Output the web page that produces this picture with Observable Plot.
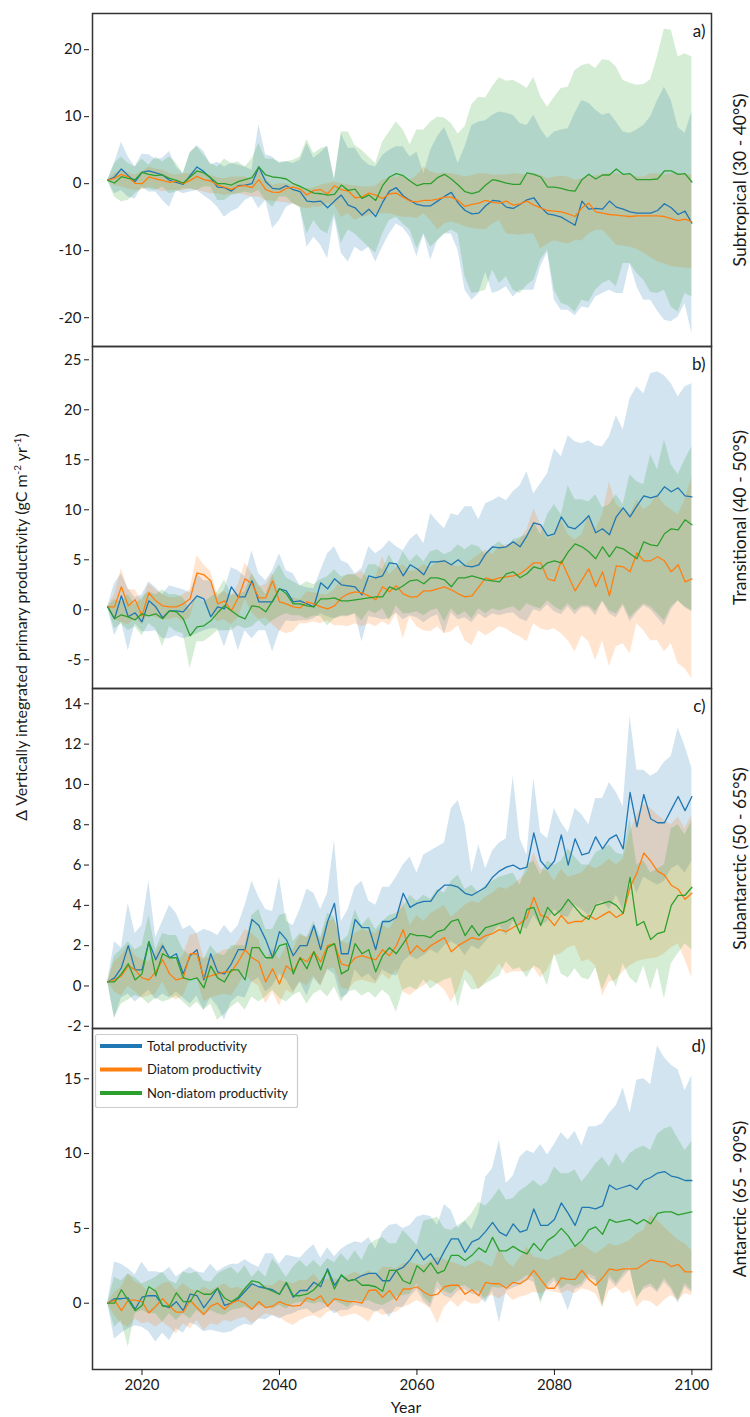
<!DOCTYPE html>
<html><head><meta charset="utf-8">
<script src="https://cdn.jsdelivr.net/npm/d3@7"></script>
<script src="https://cdn.jsdelivr.net/npm/@observablehq/plot@0.6"></script>
<style>
body{margin:0;background:#fff;}
#wrap{position:relative;width:750px;height:1417px;font-family:Lato,"Open Sans",sans-serif;background:#fff;}
#wrap svg{position:absolute;left:0;}
</style></head><body><div id="wrap"></div>
<script>
// ---------- DATA (years 2015..2100) ----------
const years = d3.range(2015, 2101);
const seriesNames = ["Total productivity", "Diatom productivity", "Non-diatom productivity"];
const seriesColors = ["#1f77b4", "#ff7f0e", "#2ca02c"];
const panelLabels = ["a)", "b)", "c)", "d)"];
const regionLabels = ["Subtropical (30 - 40°S)", "Transitional (40 - 50°S)", "Subantarctic (50 - 65°S)", "Antarctic (65 - 90°S)"];
const xTicks = [2020, 2040, 2060, 2080, 2100];
const aTicks = [-20, -10, 0, 10, 20];
const bTicks = [-5, 0, 5, 10, 15, 20, 25];
const cTicks = [-2, 0, 2, 4, 6, 8, 10, 12, 14];
const dTicks = [0, 5, 10, 15];

// Panel a
const aTotal = [0.5,1.0,2.2,1.2,0.3,1.7,1.9,1.6,1.3,0.5, 0.2,-0.1,1.2,2.5,1.8,0.8,-0.5,-0.6,-1.1,-0.3, -0.2,0.0,2.5,0.3,-0.7,-0.8,-0.3,-0.9,-1.2,-2.6, -2.7,-2.6,-3.6,-2.6,-1.7,-3.2,-3.6,-4.7,-3.8,-4.9, -2.8,-1.1,-0.6,-1.8,-2.5,-3.1,-3.3,-3.3,-2.6,-1.9, -1.3,-2.9,-4.0,-4.5,-4.4,-3.3,-2.5,-2.6,-3.5,-3.7, -3.1,-2.4,-2.1,-3.5,-4.5,-4.7,-5.0,-5.6,-6.2,-2.6, -3.8,-3.7,-3.8,-2.6,-3.5,-3.8,-4.2,-4.4,-4.4,-4.4, -4.0,-3.0,-3.6,-4.6,-4.1,-5.9];
const aTotalLo = [0.5,-1.5,-1.0,-2.0,-2.3,-0.5,-1.25,-1.25,-2.5,-3.5, -1.0,-1.5,-1.25,-1.0,-1.8,-2.5,-3.5,-5.0,-4.2,-3.7, -2.5,-2.0,-3.7,-2.5,-6.7,-5.5,-3.5,-3.0,-3.5,-9.5, -8.0,-9.2,-11.2,-5.0,-10.4,-11.7,-9.5,-10.2,-9.5,-11.7, -9.5,-7.5,-6.0,-6.6,-8.0,-10.9,-7.5,-11.4,-8.5,-7.5, -7.5,-10.0,-15.9,-17.4,-16.4,-13.2,-16.4,-16.0,-15.4,-16.9, -15.9,-15.9,-15.9,-12.4,-10.2,-17.4,-18.9,-18.9,-19.7,-18.4, -18.6,-16.9,-16.4,-15.9,-16.4,-16.4,-11.9,-15.4,-17.4,-17.4, -19.0,-20.4,-20.6,-19.9,-17.9,-22.4];
const aTotalHi = [0.5,3.0,6.2,4.0,2.5,4.4,4.3,3.6,3.8,4.8, 2.5,1.5,4.5,5.7,4.8,2.8,3.2,2.5,3.0,2.8, 2.5,2.0,8.8,4.3,4.0,3.0,3.3,3.0,3.5,6.0, 3.8,4.6,5.6,0.5,7.4,5.3,5.3,3.7,2.8,2.5, 4.2,5.0,5.5,5.5,4.0,4.7,1.5,5.0,7.0,8.4, 6.0,3.0,5.5,8.7,9.2,9.4,10.2,10.7,10.5,10.2, 9.0,8.7,10.2,8.2,6.7,7.7,8.0,8.2,10.5,12.4, 12.0,11.0,10.2,10.5,9.2,7.7,7.5,8.0,8.7,10.0, 12.4,14.4,12.4,8.4,7.5,10.7];
const aDiatom = [0.5,0.8,1.4,1.0,0.05,0.0,1.0,0.7,0.5,0.2, 0.4,0.0,0.5,1.1,0.6,0.4,-0.2,-0.5,-0.85,-0.4, -0.3,-0.6,0.6,-0.9,-1.25,-1.3,-0.7,-0.5,-0.8,-1.7, -1.0,-0.9,-1.5,-0.3,-0.9,-1.1,-2.1,-2.0,-1.4,-1.7, -2.2,-1.5,-1.4,-2.0,-2.6,-2.7,-2.5,-2.5,-2.3,-2.0, -2.0,-2.5,-3.4,-3.1,-2.9,-2.5,-2.8,-2.9,-2.6,-3.2, -3.0,-2.6,-3.2,-3.6,-4.0,-4.1,-4.2,-4.5,-4.9,-3.6, -2.9,-4.2,-4.4,-4.6,-4.7,-4.8,-4.9,-4.8,-4.8,-4.8, -4.8,-4.9,-5.2,-5.5,-5.3,-5.7];
const aDiatomLo = [0.5,-0.3,-0.5,-0.8,-1.0,-0.9,-0.5,-0.8,-1.25,-1.0, -1.0,-1.1,-0.75,-1.0,-1.25,-1.5,-1.5,-1.75,-1.6,-1.5, -1.7,-2.0,-2.0,-2.5,-2.6,-2.75,-2.9,-3.0,-3.5,-3.75, -3.5,-3.5,-3.0,-3.2,-5.0,-4.5,-5.5,-5.0,-4.8,-4.5, -4.5,-4.5,-4.8,-5.0,-5.0,-5.2,-4.5,-5.5,-6.9,-6.0, -5.7,-6.0,-6.4,-6.7,-6.8,-6.9,-6.0,-5.5,-7.5,-7.6, -7.7,-7.5,-7.5,-9.7,-9.0,-8.5,-8.8,-9.0,-8.5,-8.5, -7.5,-7.0,-6.9,-8.0,-9.2,-9.3,-9.5,-9.8,-10.4,-11.0, -11.7,-12.0,-12.4,-12.5,-12.6,-12.7];
const aDiatomHi = [0.5,1.5,2.0,1.6,1.25,1.8,2.5,2.2,2.0,1.5, 1.25,1.5,1.5,2.0,1.5,1.25,0.9,0.75,1.0,1.0, 1.0,0.5,2.0,0.8,-0.25,0.0,0.0,-0.3,-0.5,-0.75, -0.6,-0.25,0.0,0.25,0.0,-0.25,-0.3,-0.5,-0.5,-0.4, 0.5,0.8,1.0,1.2,0.5,1.2,2.5,1.8,1.5,1.6, 1.5,1.3,1.0,1.2,1.5,1.5,1.3,1.3,1.3,1.5, 1.4,1.3,1.5,1.3,0.75,1.0,1.1,1.0,0.5,0.75, 1.0,1.2,1.4,1.5,1.5,1.4,1.3,1.0,1.0,1.5, 1.5,1.3,1.5,1.5,1.4,1.3];
const aNonDiatom = [0.5,0.1,1.05,0.8,0.6,1.7,1.4,1.2,1.3,0.8, 0.5,0.1,1.0,1.9,1.6,0.9,0.0,0.0,-0.2,0.3, 0.6,0.9,2.5,1.3,1.0,0.9,0.7,0.0,-0.4,-0.9, -1.4,-1.5,-1.7,-1.6,-0.2,-1.0,-0.8,-2.2,-1.7,-2.5, -0.3,1.0,1.5,1.2,0.4,-0.3,0.0,0.0,0.9,1.4, 0.7,-0.2,-1.2,-1.5,-1.2,-0.2,0.6,0.4,0.1,-0.1, -0.1,1.6,1.4,1.0,-0.5,-0.5,-0.7,-1.0,-1.1,0.6, 1.4,0.7,1.3,1.3,2.2,1.4,1.5,0.6,0.6,0.6, 0.7,1.9,1.9,1.4,1.5,0.25];
const aNonDiatomLo = [0.5,-2.0,-2.7,-2.5,-1.5,-0.75,-0.8,-1.0,-0.5,-1.5, -1.25,-0.75,-0.8,-1.0,-0.5,-0.5,-2.5,-2.5,-1.75,-1.5, -1.25,-1.5,-1.0,-2.5,-3.5,-2.0,-2.0,-3.0,-3.5,-7.5, -5.5,-6.9,-7.5,-4.5,-8.9,-6.9,-7.5,-8.5,-9.5,-10.4, -7.5,-5.5,-5.0,-6.0,-6.9,-9.7,-7.5,-9.5,-8.5,-7.5, -6.9,-7.5,-13.9,-16.4,-16.2,-15.9,-12.9,-14.9,-13.9,-15.9, -16.4,-15.2,-14.4,-11.4,-9.9,-15.9,-17.9,-18.2,-19.2,-17.4, -17.7,-15.9,-14.9,-14.4,-15.4,-11.9,-11.9,-13.4,-14.4,-16.2, -16.4,-15.9,-18.4,-19.2,-16.4,-16.9];
const aNonDiatomHi = [0.5,3.0,4.0,3.0,2.5,3.7,2.75,4.0,3.25,4.0, 3.0,1.5,4.7,5.5,4.2,3.0,2.5,3.7,3.0,3.25, 2.5,3.7,6.0,3.7,3.7,3.25,3.25,3.5,4.0,6.6, 4.5,5.2,5.6,0.75,7.7,7.7,5.7,5.0,4.0,3.0, 6.2,7.7,9.2,8.0,5.8,8.0,8.0,9.2,9.9,9.8, 9.0,7.4,8.5,11.8,12.9,12.8,14.5,15.8,15.3,15.4, 14.9,14.2,15.9,13.0,11.4,12.9,14.2,14.4,16.9,17.6, 17.9,17.2,18.5,18.4,17.4,15.4,15.0,14.7,14.8,15.5, 19.0,23.1,22.9,18.9,19.4,18.9];

// Panel b
const bTotal = [0.3,-0.9,1.4,-0.7,-0.3,-1.2,0.9,0.3,-0.8,-0.1, -0.1,-0.2,0.6,1.4,1.1,-0.7,0.3,0.1,2.3,1.3, 1.3,2.9,0.8,0.8,0.8,2.1,1.9,0.8,0.9,0.6, 0.3,2.7,2.1,3.1,2.5,2.4,2.3,1.5,3.4,3.2, 3.4,4.7,4.6,3.4,4.5,4.1,3.5,4.8,4.8,4.9, 4.5,5.0,4.4,4.3,4.5,5.6,6.3,6.2,6.3,6.8, 6.3,7.4,8.7,8.5,7.4,7.6,9.3,8.3,8.1,8.7, 9.4,7.7,8.1,7.5,9.3,10.2,9.3,10.4,11.4,11.2, 11.4,12.3,11.8,12.2,11.4,11.3];
const bTotalLo = [0.3,-2.6,-1.2,-4.1,-1.4,-2.2,-2.2,-2.1,-2.9,-2.9, -2.6,-2.9,-2.7,-2.4,-2.1,-1.9,-1.9,-3.7,-1.7,-4.1, -2.1,-2.9,-2.1,-2.1,-4.2,-2.2,-1.1,-1.2,-1.1,-1.1, -0.9,-0.4,-0.7,-0.9,-0.7,-0.7,-0.4,-3.2,-0.7,-0.8, -1.0,-0.9,-0.3,-1.0,-0.6,-0.8,-1.3,-0.8,-0.5,-2.4, -0.3,-1.0,-0.8,-1.3,-0.4,-0.9,-0.4,-0.6,-0.4,-0.3, -0.9,-1.2,0.0,-0.2,0.5,-0.2,-0.5,0.3,-0.5,0.2, 0.2,-0.6,0.8,-0.4,-0.8,0.4,-1.2,-0.3,0.4,0.0, -0.8,-1.6,0.0,0.9,0.2,-0.2];
const bTotalHi = [0.3,2.6,3.6,2.1,1.2,1.5,2.8,2.2,1.5,2.4, 2.2,2.0,1.7,3.6,2.9,2.9,1.2,2.0,4.2,3.9, 3.3,5.9,3.6,2.9,3.9,5.6,3.9,3.6,2.4,2.2, 2.1,3.9,5.6,6.3,4.9,4.6,3.6,4.1,6.3,5.6, 6.1,6.9,6.3,5.9,7.0,7.6,6.6,9.6,8.8,8.1, 9.6,9.4,10.3,10.3,9.0,10.6,10.9,11.3,10.9,11.8, 12.4,13.8,11.6,12.6,13.6,16.1,15.3,17.4,16.8,16.6, 16.9,16.4,16.3,17.3,19.4,18.0,21.1,22.3,21.6,23.6, 23.8,23.4,22.6,21.3,22.3,22.6];
const bDiatom = [0.3,0.3,2.3,0.4,1.0,-0.6,1.7,0.9,0.4,0.3, 0.3,0.6,1.1,3.7,3.5,2.9,0.6,0.9,-0.1,1.2, 3.1,2.6,1.2,1.2,2.9,0.8,0.6,0.3,0.2,0.8, 0.6,0.3,0.1,0.4,1.2,1.6,1.8,1.7,1.4,1.0, 2.3,1.8,2.4,1.6,1.3,1.3,1.9,1.9,2.1,2.3, 2.0,1.6,1.3,1.4,2.3,3.2,3.0,3.2,3.3,3.4, 3.6,4.1,4.7,4.7,3.1,2.9,4.9,3.4,1.9,3.0, 4.1,2.3,3.8,1.4,4.4,4.3,3.8,5.7,4.9,4.9, 5.3,4.9,3.8,4.5,2.8,3.1];
const bDiatomLo = [0.3,-1.0,-1.3,-1.5,-0.9,-1.5,-0.5,-0.8,-1.0,-1.0, -0.8,-1.2,-0.8,1.5,1.0,-0.5,-1.2,-1.0,-1.5,-0.8, 1.0,-0.3,-1.0,-0.8,-1.5,-2.1,-2.4,-2.2,-1.4,-1.4, -1.2,-1.4,-1.1,-1.6,-1.6,-1.7,-1.4,-1.7,-1.4,-1.7, -1.2,-1.6,-0.4,-2.9,-0.7,-1.7,-2.1,-2.2,-1.7,-2.4, -2.2,-1.6,-3.1,-3.6,-2.1,-2.6,-2.2,-1.7,-1.9,-2.4, -2.7,-3.2,-1.4,-1.9,-2.1,-1.9,-2.4,-3.1,-4.2,-2.6, -3.2,-5.1,-3.1,-5.7,-3.7,-3.4,-4.4,-1.4,-2.1,-3.1, -3.1,-4.2,-3.4,-5.4,-5.9,-6.9];
const bDiatomHi = [0.3,1.5,4.1,2.0,2.0,0.8,2.6,2.0,1.5,1.2, 1.2,1.5,2.0,5.4,4.5,3.8,1.5,1.8,1.3,2.5, 4.7,3.6,2.3,2.5,3.6,1.8,1.5,1.2,1.0,1.8, 1.7,1.5,1.5,2.0,3.0,3.5,3.5,3.8,3.0,3.2, 5.3,3.5,4.2,4.5,3.8,4.0,4.5,4.2,4.8,5.0, 4.5,4.3,4.5,5.0,5.5,6.0,5.5,6.3,6.5,6.6, 7.0,8.0,10.1,8.5,7.0,7.5,9.0,7.5,7.0,7.5, 9.5,8.0,9.5,12.8,10.5,10.0,9.5,11.0,10.0,10.5, 11.5,10.5,10.0,9.5,11.0,13.3];
const bNonDiatom = [0.3,-0.9,-0.5,-0.7,-1.0,-0.4,-0.6,-0.4,-0.9,-0.1, -0.2,-0.9,-2.6,-1.7,-1.6,-1.1,-0.3,0.4,-0.1,-0.6, -0.9,0.4,0.3,-0.2,0.9,2.1,1.6,0.6,0.6,0.4, 0.3,1.1,1.1,1.2,0.9,0.9,1.0,1.1,1.2,1.3, 1.3,2.3,2.0,2.4,2.9,3.0,2.6,3.2,3.2,3.0, 2.3,3.2,3.2,3.4,3.2,3.0,2.9,2.8,3.6,3.8, 3.2,3.6,4.3,4.1,4.7,4.9,4.7,5.8,6.6,6.3, 5.8,5.1,6.3,5.3,6.3,6.1,5.6,5.1,6.8,6.5, 6.4,7.6,8.1,8.0,9.0,8.5];
const bNonDiatomLo = [0.3,-1.9,-1.4,-2.1,-1.7,-2.6,-1.4,-1.9,-3.7,-1.7, -2.2,-2.4,-5.9,-3.2,-3.2,-2.7,-2.1,-2.1,-2.1,-1.6, -1.9,-1.7,-1.1,-1.7,-1.1,-0.7,-0.4,-0.6,-0.6,-0.9, -0.6,-0.7,-1.6,-0.9,-0.6,-0.6,-0.4,-1.1,-0.1,-0.4, 0.1,-1.1,0.4,-0.4,-0.4,-0.2,-0.6,-0.1,0.1,-1.2, 0.1,-0.6,-0.2,-0.9,0.1,-0.4,0.1,-0.1,0.1,0.3, -0.2,0.6,0.3,0.1,0.9,0.3,-0.1,0.6,-0.1,0.4, 0.4,-0.2,0.9,-0.1,-0.4,0.6,-0.8,-0.1,0.6,0.3, -0.4,-1.1,0.3,0.9,0.3,-0.1];
const bNonDiatomHi = [0.3,1.0,0.8,1.5,0.5,1.2,1.8,1.5,2.0,1.5, 1.5,1.2,0.0,1.5,0.8,1.2,1.8,3.0,1.5,1.5, 1.8,3.6,2.5,1.5,3.4,4.5,3.2,2.8,2.4,2.8, 2.5,3.0,3.3,4.0,3.3,3.5,3.5,3.0,4.5,4.5, 4.0,5.5,4.2,5.8,4.8,5.5,4.8,5.8,6.0,5.5, 5.8,6.5,6.0,6.5,6.3,5.5,6.3,6.8,6.2,7.0, 7.2,7.5,8.8,7.5,9.5,10.5,9.5,12.4,11.0,11.0, 10.8,11.5,10.2,10.5,11.5,10.5,13.5,12.8,12.5,15.5, 14.0,17.0,14.5,13.5,15.0,16.3];

// Panel c
const cTotal = [0.2,0.4,0.9,2.0,0.8,0.8,2.2,1.3,2.0,1.4, 1.6,0.6,1.5,1.8,0.3,1.6,0.7,0.6,1.1,1.8, 1.8,3.3,3.0,2.3,1.4,2.7,2.3,1.5,2.0,2.0, 3.0,1.8,3.2,4.1,1.6,1.6,3.3,2.9,2.9,1.8, 3.2,3.2,3.4,4.6,3.9,4.1,4.2,4.2,4.7,5.0, 5.0,4.9,4.6,4.5,4.7,4.9,5.4,5.7,5.9,6.0, 5.8,5.9,7.6,6.2,5.8,6.2,7.5,6.0,7.3,6.5, 6.6,7.4,6.8,7.3,7.5,6.8,9.6,7.9,9.5,8.3, 8.1,8.1,8.75,9.4,8.7,9.4];
const cTotalLo = [0.2,-1.6,-0.6,-0.4,-0.8,-0.5,-0.2,-0.7,-0.4,-0.6, -0.3,-0.6,-0.9,-0.5,-1.2,-0.6,-1.0,-1.7,-0.8,-0.5, -0.6,0.2,0.4,-0.3,0.0,0.6,0.3,-0.3,0.2,-0.5, 0.4,0.0,0.8,0.6,-0.6,-0.4,0.8,0.4,0.6,0.2, 0.8,0.6,0.5,1.2,1.5,1.3,1.5,1.8,1.6,2.0, 2.2,2.0,1.5,2.0,1.8,2.2,2.6,3.0,2.5,3.2, 3.0,2.8,3.5,3.0,3.2,3.8,3.5,3.4,4.0,3.8, 3.5,4.0,4.2,3.8,4.5,3.8,5.5,4.6,5.4,5.2, 5.0,5.2,5.8,6.0,5.6,6.2];
const cTotalHi = [0.2,2.2,1.9,4.1,2.6,3.0,5.2,2.4,3.2,4.0, 3.6,2.8,3.0,2.6,2.8,2.7,2.5,3.0,2.6,3.0, 4.0,5.2,4.4,3.8,3.7,5.4,3.2,3.0,3.8,4.8, 4.6,3.8,4.6,7.2,3.2,3.8,4.9,5.2,4.2,4.0, 4.9,4.9,5.4,6.0,6.4,5.6,6.5,6.7,6.9,7.1, 8.8,9.2,8.0,5.6,7.0,5.8,6.7,7.1,7.3,10.4, 7.3,6.5,10.3,7.6,7.3,8.8,8.1,7.6,8.8,8.5, 8.0,9.3,9.3,10.1,9.6,8.9,13.4,10.7,10.7,10.4, 10.6,11.1,11.4,12.8,11.9,10.8];
const cDiatom = [0.2,0.3,0.5,1.0,0.8,0.4,0.3,0.7,1.3,0.6, 0.3,0.4,1.6,1.6,0.4,0.5,0.6,0.7,0.7,1.2, 1.8,1.4,1.2,0.2,0.85,0.1,1.0,0.7,1.4,1.2, 1.7,1.2,2.0,2.1,1.1,1.0,1.4,1.5,1.4,1.3, 1.8,1.5,2.0,2.8,1.6,2.0,1.7,2.0,2.2,2.4, 1.7,2.0,2.2,2.4,2.3,2.5,2.6,2.8,2.7,2.9, 3.1,3.4,4.4,3.5,3.4,3.0,3.5,3.1,3.2,3.2, 3.5,3.3,3.5,3.7,3.4,3.6,4.9,5.6,6.6,6.2, 5.7,5.5,5.0,4.8,4.3,4.6];
const cDiatomLo = [0.2,-0.3,-0.5,0.0,-0.3,-0.6,-0.5,-0.4,0.2,-0.5, -0.7,-0.5,0.3,0.4,-0.8,-0.6,-0.5,-0.4,-0.5,0.0, 0.6,0.2,0.0,-0.9,-0.3,-1.0,-0.2,-0.4,0.2,0.0, 0.5,0.0,0.8,0.9,-0.1,-0.2,0.2,0.3,0.2,0.1, 0.6,0.3,0.8,-0.3,-0.47,-0.2,0.0,0.3,0.1,-0.2, -0.8,-0.2,0.8,0.5,-0.2,0.2,0.6,1.1,0.6,0.7, 0.7,0.7,0.9,0.4,0.8,1.5,1.6,1.9,2.0,1.2, 1.3,1.0,-0.5,0.2,0.3,0.7,1.0,1.2,1.3,1.35, 1.4,1.6,1.9,2.1,1.3,0.4];
const cDiatomHi = [0.2,1.2,1.5,2.0,1.5,1.3,1.2,1.6,2.2,1.5, 1.2,1.5,2.5,2.6,1.4,1.4,1.6,1.8,1.8,2.2, 2.8,2.6,2.3,1.2,1.9,1.3,2.0,1.8,2.5,2.4, 2.8,2.3,3.2,3.3,2.2,2.1,2.6,2.8,2.7,2.6, 3.0,2.8,3.4,4.2,3.0,3.5,3.2,3.6,3.8,4.0, 3.4,3.7,4.0,4.2,4.1,4.4,4.6,4.9,4.8,5.0, 5.3,5.6,6.6,5.8,5.7,5.2,5.8,5.4,5.5,5.6, 6.0,5.8,6.0,6.3,6.0,6.3,7.6,8.5,9.0,8.8, 8.5,8.2,8.0,8.4,7.8,8.5];
const cNonDiatom = [0.2,0.2,0.6,1.1,0.3,0.6,2.2,0.5,1.6,1.4, 1.4,0.4,0.3,0.4,-0.1,1.0,0.4,0.2,0.8,0.8, 0.3,1.9,1.9,1.4,1.4,2.0,2.1,0.6,1.4,0.85, 1.7,0.8,1.9,2.1,0.6,0.8,2.1,1.6,1.8,0.7, 1.5,1.9,1.6,2.1,2.6,2.5,2.5,2.4,2.7,2.8, 3.2,3.3,2.5,3.0,2.5,2.9,3.0,3.1,3.2,3.4, 2.6,3.8,3.9,3.0,3.9,3.5,3.8,4.3,3.9,3.5, 3.3,4.0,4.1,4.2,4.0,3.6,5.4,3.0,3.2,2.3, 2.6,2.7,4.0,4.5,4.5,4.9];
const cNonDiatomLo = [0.2,-1.6,-0.9,-0.7,-0.47,-0.6,-0.9,-0.6,-0.8,-0.7, -0.5,-0.8,-1.1,-0.8,-1.2,-0.9,-1.7,-1.4,-1.05,-0.8, -1.2,-0.55,-0.8,-0.55,-0.2,-0.6,-0.8,-0.47,-0.3,-0.9, -0.4,-0.2,-0.55,-0.05,-0.8,-0.3,-0.2,-0.5,-0.3,-0.6, -0.2,-0.5,-1.3,-0.2,-0.05,-0.2,0.3,-0.15,0.1,0.3, 0.4,-1.05,0.3,-0.2,-0.15,0.1,0.3,0.5,1.2,0.8, 0.9,0.4,1.0,0.8,0.0,1.6,0.6,0.4,0.85,0.4, 0.3,0.9,-0.2,0.6,-0.05,1.1,0.4,0.1,1.0,-0.2, 0.9,-0.65,1.1,1.6,2.1,1.8];
const cNonDiatomHi = [0.2,1.5,1.8,2.2,1.8,2.0,3.5,1.8,2.6,2.5, 2.5,1.8,1.5,1.6,1.3,2.0,1.6,1.5,2.0,2.0, 2.0,3.5,3.8,2.8,2.8,3.5,3.6,2.2,2.6,2.4, 3.2,2.4,3.6,3.4,2.2,2.5,3.8,3.0,3.4,2.8, 3.2,3.5,3.6,3.9,4.5,4.2,4.5,4.3,4.8,4.6, 5.2,5.5,4.8,5.0,4.6,5.0,5.2,5.4,5.5,5.6, 5.0,6.0,6.2,5.5,6.2,6.0,6.2,6.8,6.4,6.0, 6.0,6.6,6.8,7.0,6.6,6.5,8.3,6.0,6.2,5.6, 5.8,6.0,7.8,8.0,7.5,8.2];

// Panel d
const dTotal = [0.0,0.3,0.3,0.35,-0.4,0.4,0.5,0.5,-0.15,-0.3, 0.1,-0.5,0.6,0.5,-0.3,0.3,1.0,-0.15,0.0,0.3, 0.8,1.3,1.1,1.0,0.9,0.6,1.35,0.4,0.85,0.85, 1.4,1.1,2.3,1.2,1.85,1.5,1.6,1.85,2.0,2.0, 1.5,1.5,2.2,2.4,2.9,3.6,2.9,3.3,2.6,3.5, 4.3,4.3,3.4,4.1,4.3,4.8,5.4,4.75,4.5,5.3, 4.75,4.9,6.3,5.2,5.2,5.6,6.7,6.0,5.2,6.4, 6.4,6.3,6.5,7.9,7.6,7.75,7.9,7.6,8.2,8.4, 8.7,8.8,8.5,8.4,8.2,8.2];
const dTotalLo = [0.0,-2.4,-2.0,-1.7,-1.5,-1.6,-1.9,-2.6,-2.0,-2.5, -1.7,-2.0,-1.3,-1.5,-1.9,-1.8,-1.9,-2.0,-1.9,-1.6, -1.4,-1.5,-1.05,-1.1,-0.82,-1.05,-0.82,-0.71,-0.49,-0.38, -0.71,-0.49,-0.27,-0.71,-0.49,-0.49,-0.16,-0.27,-0.38,-0.6, -0.38,-0.94,-0.27,-0.27,0.4,0.9,0.1,-0.3,1.0,0.5, 0.3,0.8,0.9,0.6,0.5,0.0,0.8,-1.3,0.8,1.0, 1.2,1.6,1.4,0.2,1.0,1.5,0.7,-0.5,0.9,1.1, 1.7,1.5,-0.1,1.6,1.1,1.7,2.2,0.4,0.9,1.1, 0.7,1.4,0.9,0.0,1.1,0.7];
const dTotalHi = [0.0,2.75,2.6,2.3,1.9,2.75,2.1,2.1,2.0,2.4, 1.75,2.1,2.4,2.1,2.0,2.6,2.1,2.4,2.6,2.6, 2.9,2.6,2.4,3.3,3.3,2.6,3.2,3.1,3.0,3.5, 3.9,3.0,3.7,3.1,3.6,3.9,4.1,4.0,4.4,3.6, 4.75,5.2,5.3,5.0,5.2,5.75,5.9,5.8,5.2,6.6, 6.2,5.0,5.5,4.9,6.0,8.4,9.0,10.9,8.0,8.5, 9.76,10.2,10.0,10.6,9.9,10.6,11.4,10.9,11.5,10.5, 11.8,11.8,12.0,12.7,13.2,14.4,12.7,14.9,15.0,14.6, 17.2,16.4,15.9,15.6,14.2,15.2];
const dDiatom = [0.0,0.2,-0.5,0.2,0.2,0.1,-0.65,-0.2,0.3,-0.2, -0.6,-0.6,0.2,-0.3,-0.75,-0.2,0.0,-0.4,0.0,0.2, 0.0,-0.4,0.1,-0.3,-0.2,0.1,-0.1,-0.2,-0.15,0.35, 0.2,0.5,-0.2,0.3,0.2,0.1,0.1,0.0,0.85,0.9, 0.4,0.85,0.2,0.95,0.95,1.1,0.75,0.5,0.6,1.1, 1.2,1.2,0.6,0.9,0.5,1.4,1.3,1.3,1.0,1.4, 1.3,1.6,2.2,1.6,1.0,1.0,1.7,1.6,1.6,2.2, 1.6,1.2,1.7,2.3,2.2,2.3,2.3,2.3,2.6,2.9, 2.8,2.75,2.45,2.6,2.1,2.1];
const dDiatomLo = [0.0,-0.82,-1.38,-1.6,-1.05,-1.38,-1.27,-1.6,-1.27,-1.6, -2.05,-1.38,-1.72,-1.16,-1.83,-1.38,-1.49,-1.16,-1.27,-1.05, -0.94,-1.38,-1.05,-0.71,-0.82,-0.94,-1.27,-1.49,-1.16,-0.94, -0.82,-1.05,-0.6,-0.49,-0.94,-0.82,-0.71,-0.94,-1.27,-0.49, -0.82,-0.71,-0.6,-0.27,-0.1,0.18,-0.05,-0.38,-1.38,-0.27, 0.18,-0.27,0.18,-0.05,-0.05,0.4,0.51,0.29,0.63,0.18, 0.4,0.51,0.74,0.63,0.85,0.74,0.63,0.85,0.63,0.96, 0.85,0.63,-0.27,0.85,1.07,0.63,0.85,-0.27,0.18,0.1, -0.27,0.18,0.51,0.18,0.63,0.51];
const dDiatomHi = [0.0,0.74,1.07,1.96,1.41,1.18,0.74,0.96,1.3,1.41, 0.85,1.3,0.96,0.74,1.07,0.85,1.07,1.3,0.96,1.07, 0.85,1.41,1.07,1.18,1.18,1.52,1.41,1.3,1.52,1.52, 1.96,1.41,1.63,1.63,1.52,1.85,2.08,1.85,2.19,1.85, 2.4,2.4,2.3,2.63,2.74,2.6,2.52,2.8,3.08,2.9, 2.74,2.6,2.4,2.6,2.85,2.6,2.4,3.75,2.8,2.4, 3.0,3.75,3.08,3.0,2.85,3.08,3.2,3.52,3.7,3.97, 3.6,3.3,3.6,3.97,3.8,3.97,4.2,4.64,4.86,5.86, 5.52,5.08,4.64,4.2,3.97,3.52];
const dNonDiatom = [0.0,0.0,0.9,0.2,-0.5,-0.15,1.1,0.8,-0.2,-0.2, 0.7,0.1,0.1,0.85,0.6,0.6,1.0,0.35,0.1,0.4, 1.0,1.5,1.4,1.0,0.8,0.6,1.4,0.5,0.5,0.6, 0.9,1.4,2.2,0.95,1.9,1.5,1.6,1.2,1.2,1.1, 0.8,2.2,2.2,1.5,1.3,2.5,2.1,2.7,2.0,2.2, 3.2,3.2,2.85,3.2,3.7,3.4,4.4,3.5,3.5,3.8, 3.5,3.3,4.0,3.5,4.2,4.5,5.0,4.5,3.8,4.2, 4.9,5.1,4.6,5.6,5.4,5.5,5.6,5.3,5.6,5.3, 6.0,6.1,6.1,5.9,6.0,6.1];
const dNonDiatomLo = [0.0,-1.6,-1.16,-2.94,-0.71,-0.49,-0.71,-0.71,-1.27,-0.71, -1.16,-0.71,-1.05,-0.49,-0.82,-0.49,-0.71,-0.82,-0.49,-0.38, -0.27,-0.49,-0.16,-0.27,-0.38,-0.16,-0.38,-0.05,0.07,0.07, -0.05,0.07,-0.16,0.18,-0.05,-0.27,0.18,0.07,0.18,-0.05, -0.16,0.07,0.4,0.51,0.6,1.3,0.4,-0.05,1.5,0.8, 0.6,1.07,1.18,0.85,0.8,0.18,1.07,1.0,1.07,1.3, 1.5,1.85,1.74,-0.05,1.3,1.74,0.96,1.3,1.1,1.3, 1.96,1.74,-0.27,1.85,1.3,1.96,2.4,0.18,1.07,1.3, 0.85,1.63,1.07,0.18,1.3,0.85];
const dNonDiatomHi = [0.0,1.74,1.5,1.96,1.7,1.3,1.5,1.74,2.08,1.5, 1.3,2.08,1.96,2.08,1.5,1.4,1.96,2.2,2.4,1.96, 2.5,1.74,2.2,1.74,2.97,2.4,1.74,2.4,2.85,2.4, 2.85,2.4,2.97,2.7,3.3,2.8,3.5,2.85,3.85,4.2, 4.4,3.97,3.97,4.86,4.4,3.85,5.5,5.6,5.75,5.0, 4.86,5.2,5.5,6.0,6.75,6.5,7.0,7.65,6.9,7.0, 7.5,7.8,8.2,7.8,8.1,9.1,8.65,8.65,8.9,8.1, 8.65,9.3,9.76,9.1,10.0,9.3,10.0,10.3,10.5,10.2, 11.3,11.65,11.8,11.0,10.2,10.8];

// ---------- LAYOUT ----------
const panels = [
  {label: panelLabels[0], region: regionLabels[0], top: 0,    height: 346, mt: 13, mb: 0,  domain: [-24.3, 25.4],  ticks: aTicks,
   s: [[aTotal, aTotalLo, aTotalHi], [aDiatom, aDiatomLo, aDiatomHi], [aNonDiatom, aNonDiatomLo, aNonDiatomHi]]},
  {label: panelLabels[1], region: regionLabels[1], top: 346,  height: 342, mt: 0,  mb: 0,  domain: [-7.87, 26.33], ticks: bTicks,
   s: [[bTotal, bTotalLo, bTotalHi], [bDiatom, bDiatomLo, bDiatomHi], [bNonDiatom, bNonDiatomLo, bNonDiatomHi]]},
  {label: panelLabels[2], region: regionLabels[2], top: 688,  height: 340, mt: 0,  mb: 0,  domain: [-2.11, 14.76], ticks: cTicks,
   s: [[cTotal, cTotalLo, cTotalHi], [cDiatom, cDiatomLo, cDiatomHi], [cNonDiatom, cNonDiatomLo, cNonDiatomHi]]},
  {label: panelLabels[3], region: regionLabels[3], top: 1028, height: 389, mt: 0,  mb: 48, domain: [-4.43, 18.36], ticks: dTicks,
   s: [[dTotal, dTotalLo, dTotalHi], [dDiatom, dDiatomLo, dDiatomHi], [dNonDiatom, dNonDiatomLo, dNonDiatomHi]]}
];

const wrap = document.getElementById("wrap");
const FONT = "Lato, 'Open Sans', sans-serif";
const xDomain = [2012.8, 2102.85];

panels.forEach((p, pi) => {
  const rows = [];
  p.s.forEach((trip, si) => {
    trip.forEach(arr => { if (arr.length !== years.length) throw new Error("length mismatch panel " + pi + " series " + si + ": " + arr.length); });
    years.forEach((yr, i) => rows.push({series: seriesNames[si], si, year: yr, v: trip[0][i], lo: trip[1][i], hi: trip[2][i]}));
  });
  const last = pi === panels.length - 1;
  const marks = [];
  seriesNames.forEach((name, si) => {
    marks.push(Plot.areaY(rows.filter(d => d.si === si), {x: "year", y1: "lo", y2: "hi", fill: seriesColors[si], fillOpacity: 0.2}));
  });
  seriesNames.forEach((name, si) => {
    marks.push(Plot.lineY(rows.filter(d => d.si === si), {x: "year", y: "v", stroke: seriesColors[si], strokeWidth: 1.3}));
  });
  marks.push(Plot.frame({stroke: "#333", strokeWidth: 1.5}));
  marks.push(Plot.axisY({ticks: p.ticks, tickFormat: d => String(d), tickSize: 5, tickPadding: 3, dx: -3, fontSize: 15, label: null}));
  if (last) {
    marks.push(Plot.axisX({ticks: xTicks, tickFormat: d => String(d), tickSize: 6, tickPadding: 4, fontSize: 15, label: null}));
    marks.push(Plot.text(["Year"], {frameAnchor: "bottom", dx: 4, dy: 38, fontSize: 16, lineAnchor: "middle"}));
  }
  marks.push(Plot.text([p.label], {frameAnchor: "top-right", dx: -6, dy: 18, fontSize: 17, textAnchor: "end", lineAnchor: "middle"}));
  marks.push(Plot.text([p.region], {frameAnchor: "right", dx: 29, rotate: -90, textAnchor: "middle", lineAnchor: "middle", fontSize: 17.5}));

  const chart = Plot.plot({
    width: 750, height: p.height,
    marginLeft: 92, marginRight: 39, marginTop: p.mt, marginBottom: p.mb,
    x: {domain: xDomain, axis: null},
    y: {domain: p.domain, axis: null},
    style: {fontFamily: FONT, color: "#1a1a1a", background: "transparent", overflow: "visible"},
    marks
  });
  chart.style.position = "absolute";
  chart.style.top = p.top + "px";
  chart.style.left = "0px";
  chart.style.overflow = "visible";
  wrap.appendChild(chart);
});

// ---------- Overlay: y title + legend ----------
const over = d3.select(wrap).append("svg")
  .attr("width", 750).attr("height", 1417)
  .style("position", "absolute").style("top", "0px").style("left", "0px")
  .style("overflow", "visible").style("pointer-events", "none");

const yt = over.append("text")
  .attr("transform", "translate(27,627) rotate(-90)")
  .attr("text-anchor", "middle")
  .attr("font-family", FONT).attr("font-size", 16).attr("fill", "#1a1a1a");
yt.append("tspan").text("Δ Vertically integrated primary productivity (gC m");
yt.append("tspan").attr("dy", -6).attr("font-size", 10).text("-2");
yt.append("tspan").attr("dy", 6).text(" yr");
yt.append("tspan").attr("dy", -6).attr("font-size", 10).text("-1");
yt.append("tspan").attr("dy", 6).text(")");

const lg = over.append("g");
lg.append("rect").attr("x", 95.5).attr("y", 1034.5).attr("width", 202).attr("height", 73)
  .attr("rx", 2).attr("fill", "#fff").attr("stroke", "#cccccc").attr("stroke-width", 1.2);
const legendY = [1046, 1069.5, 1093];
seriesNames.forEach((name, i) => {
  lg.append("line").attr("x1", 100).attr("x2", 142).attr("y1", legendY[i]).attr("y2", legendY[i])
    .attr("stroke", seriesColors[i]).attr("stroke-width", 4);
  lg.append("text").attr("x", 147).attr("y", legendY[i]).attr("dy", "0.35em")
    .attr("font-family", FONT).attr("font-size", 13).attr("fill", "#1a1a1a").text(name);
});
</script>
</body></html>
